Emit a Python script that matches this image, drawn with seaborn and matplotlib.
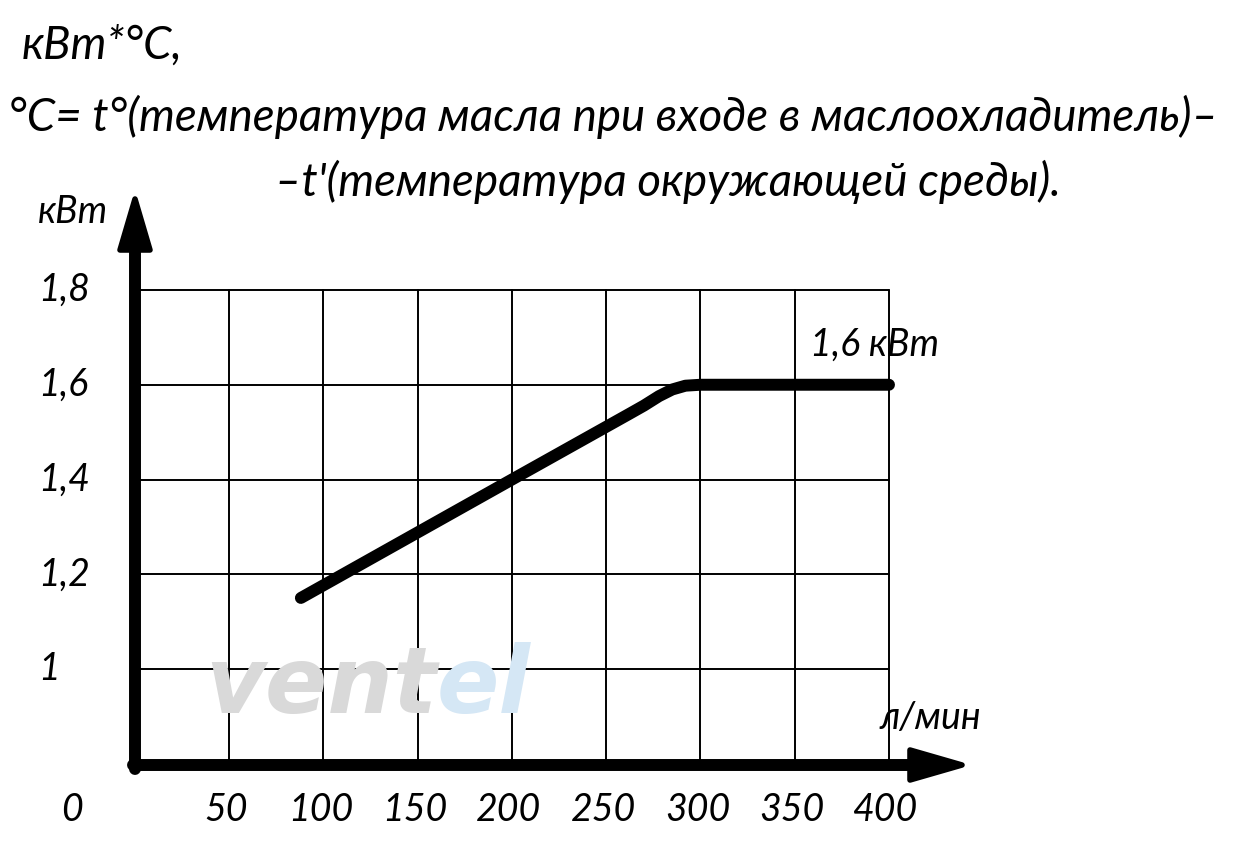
import matplotlib
matplotlib.use("Agg")
import matplotlib.pyplot as plt
import seaborn as sns
import pandas as pd
import numpy as np

sns.set_theme(style="white")
FONT = ['Lato', 'DejaVu Sans']
plt.rcParams['font.family'] = FONT

# ---- data ----
flow = [88, 200, 262, 270, 278, 285, 292, 300, 400]          # л/мин
power = [1.15, 1.40, 1.538, 1.556, 1.576, 1.590, 1.598, 1.60, 1.60]  # кВт
x_ticks = [50, 100, 150, 200, 250, 300, 350, 400]
y_ticks = [1.0, 1.2, 1.4, 1.6, 1.8]
y_tick_labels = ["1", "1,2", "1,4", "1,6", "1,8"]
x_tick_labels = ["50", "100", "150", "200", "250", "300", "350", "400"]
title_lines = ["кВт*°С,",
               "°С= t°(температура масла при входе в маслоохладитель)–",
               "–t'(температура окружающей среды)."]
annotation = "1,6 кВт"
x_unit = "л/мин"
y_unit = "кВт"

W, H = 1257, 855
fig = plt.figure(figsize=(W / 100, H / 100), dpi=100)
ax = fig.add_axes([0, 0, 1, 1])
sx = (889 - 135) / 400
sy = (669 - 290) / 0.8
ax.set_xlim(-135 / sx, (W - 135) / sx)
ax.set_ylim(1.0 - (H - 669) / sy, 1.0 + 669 / sy)
ax.axis("off")

def fx(px):
    return px / W

def fy(py):
    return 1 - py / H

renderer = fig.canvas.get_renderer()

def fit(t, width_px):
    bb = t.get_window_extent(renderer=renderer)
    t.set_fontsize(t.get_fontsize() * width_px / bb.width)

ymin_grid = 1.0 - (765 - 669) / sy
for yv in y_ticks:
    ax.plot([0, 400], [yv, yv], color="black", lw=1.4, zorder=1)
for xv in x_ticks:
    ax.plot([xv, xv], [ymin_grid, 1.8], color="black", lw=1.4, zorder=1)

# watermark
wm1 = fig.text(fx(205), fy(713), "vent", fontsize=52, fontweight="heavy", style="italic",
               color="#d9d9d9", family="DejaVu Sans", zorder=0, va="baseline")
fit(wm1, 232)
bb = wm1.get_window_extent(renderer=renderer)
wm2 = fig.text(bb.x1 / W, fy(713), "el", fontsize=wm1.get_fontsize(), fontweight="heavy",
               style="italic", color="#d5e7f5", family="DejaVu Sans", zorder=0, va="baseline")

axis_y = ymin_grid
ax.plot([0, 0], [axis_y - 4 / sy, 1.0 + (669 - 250) / sy], color="black", lw=8.6,
        solid_capstyle="round", zorder=3)
ax.plot([-2 / sx, (910 - 135) / sx], [axis_y, axis_y], color="black", lw=8.6,
        solid_capstyle="round", zorder=3)
tip_y = 1.0 + (669 - 199) / sy
base_y = 1.0 + (669 - 250) / sy
hw = 15 / sx
ax.fill([0, -hw, hw], [tip_y, base_y, base_y], color="black", zorder=4,
        joinstyle="round", lw=4, edgecolor="black")
tip_x = (962 - 135) / sx
base_x = (910 - 135) / sx
hh = 15 / sy
ax.fill([tip_x, base_x, base_x], [axis_y, axis_y + hh, axis_y - hh], color="black",
        zorder=4, joinstyle="round", lw=4, edgecolor="black")

df = pd.DataFrame({"flow": flow, "power": power})
sns.lineplot(data=df, x="flow", y="power", ax=ax, color="black", lw=8.6,
             solid_capstyle="round", solid_joinstyle="round", zorder=5, sort=False)
ax.set_xlabel("")
ax.set_ylabel("")

tk = dict(fontsize=27, style="italic", fontweight="normal", color="black")
for yv, lab in zip(y_ticks, y_tick_labels):
    fig.text(fx(38), fy(669 - (yv - 1.0) * sy), lab, ha="left", va="center", **tk)
for xv, lab in zip(x_ticks, x_tick_labels):
    fig.text(fx(135 + xv * sx - 3), fy(810), lab, ha="center", va="center", **tk)
fig.text(fx(72), fy(810), "0", ha="center", va="center", **tk)

fig.text(fx(38), fy(212), y_unit, ha="left", va="center", **tk)
fig.text(fx(930), fy(718), x_unit, ha="center", va="center", **tk)
fig.text(fx(810), fy(345), annotation, ha="left", va="center", **tk)

tt = dict(fontsize=34, style="italic", fontweight="normal", color="black")
t0 = fig.text(fx(22), fy(46), title_lines[0], ha="left", va="center", **tt)
t1 = fig.text(fx(8), fy(117), title_lines[1], ha="left", va="center", **tt)
t2 = fig.text(fx(275), fy(182), title_lines[2], ha="left", va="center", **tt)
fit(t1, 1210)
t0.set_fontsize(t1.get_fontsize())
t2.set_fontsize(t1.get_fontsize())

fig.savefig("out.png", dpi=100)
